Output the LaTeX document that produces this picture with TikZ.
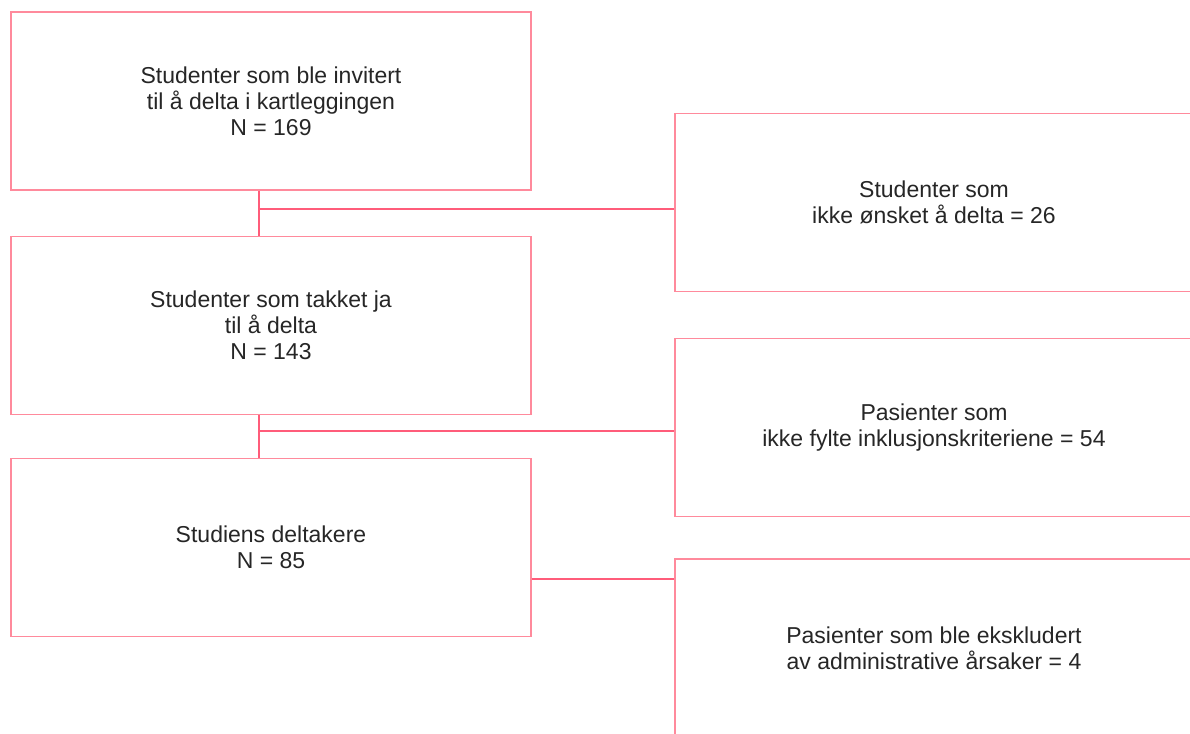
\documentclass[tikz,border=0pt]{standalone}
\usepackage{fontspec}
\setmainfont{Liberation Sans}
\usetikzlibrary{positioning,calc}
\definecolor{boxpink}{HTML}{FF8A9C}
\definecolor{linkpink}{HTML}{FF5C7A}
\tikzset{
  % bokser
  flow/.style={draw=boxpink,line width=1.4pt,fill=white,inner sep=0pt,
               minimum width=520pt,minimum height=178pt,align=center,
               font=\fontsize{23}{26}\selectfont,text=black!85},
  side/.style={flow,minimum width=518pt},
  link/.style={draw=linkpink,line width=2.4pt},
}
\begin{document}
\begin{tikzpicture}[x=1pt,y=-1pt]
\clip (0,0) rectangle (1190,733);
\fill[white] (0,0) rectangle (1190,733);
  \node[flow] (inv) at (271,101) {Studenter som ble invitert\\til å delta i kartleggingen\\N = 169};
  \node[flow] (ja) at (271,325.5) {Studenter som takket ja\\til å delta\\N = 143};
  \node[flow] (delt) at (271,547.5) {Studiens deltakere\\N = 85};
  \node[side] (nei) at (934,202.5) {Studenter som\\ikke ønsket å delta = 26};
  \node[side] (inkl) at (934,427.5) {Pasienter som\\ikke fylte inklusjonskriteriene = 54};
  \node[side] (adm) at (934,648) {Pasienter som ble ekskludert\\av administrative årsaker = 4};
  \coordinate (j1) at (259,209);
  \coordinate (j2) at (259,431);
  \draw[link] (inv.south -| j1) -- (ja.north -| j1);
  \draw[link] (j1) -- (j1 -| nei.west);
  \draw[link] (ja.south -| j2) -- (delt.north -| j2);
  \draw[link] (j2) -- (j2 -| inkl.west);
  \draw[link] (delt.east |- 0,579) -- (adm.west |- 0,579);
\end{tikzpicture}
\end{document}
